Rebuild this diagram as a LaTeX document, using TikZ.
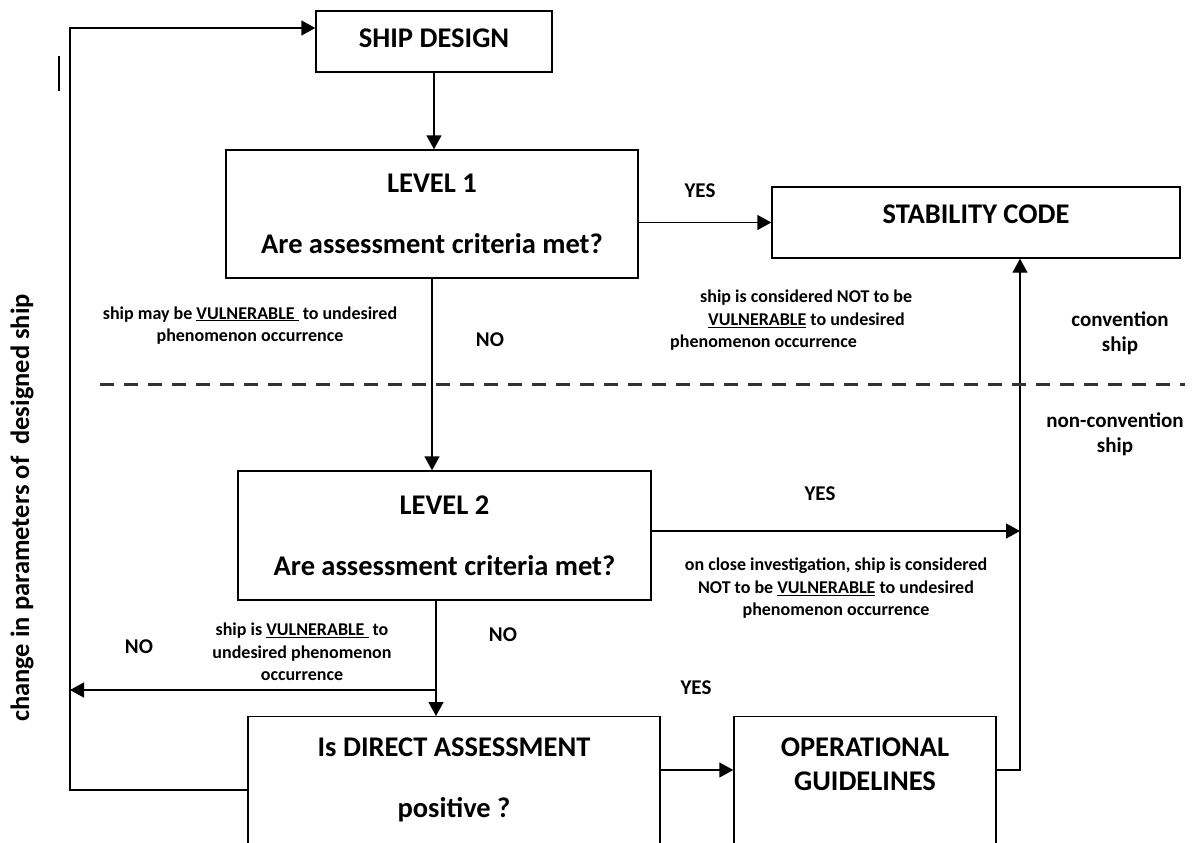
\documentclass[tikz,border=0pt]{standalone}
\usepackage{fontspec}
\setmainfont{Carlito}
\usetikzlibrary{arrows.meta}

\begin{document}
\begin{tikzpicture}[x=1pt, y=-1pt,
    box/.style={draw, line width=1.4pt, align=center, inner sep=0pt,
        font=\bfseries\fontsize{28.5}{34}\selectfont},
    lbl/.style={align=center, inner sep=0pt, font=\bfseries\fontsize{18}{22.5}\selectfont},
    ans/.style={inner sep=0pt, font=\bfseries\fontsize{21}{25}\selectfont},
    link/.style={line width=1.4pt},
    arr/.style={link, -{Triangle[length=14pt,width=15pt]}}]
    \useasboundingbox (0,0) rectangle (1192,843);
    \clip (0,0) rectangle (1192,843);

    % Boxes
    \node[box, minimum width=236pt, minimum height=61pt, text depth=7pt] (design) at (434,41.5) {SHIP DESIGN};
    \node[box, minimum width=412pt, minimum height=128pt] (lvl1) at (432,214) {LEVEL 1\\[27pt]Are assessment criteria met?};
    \node[box, minimum width=408pt, minimum height=71pt, text depth=16pt] (code) at (976,222.5) {STABILITY CODE};
    \node[box, minimum width=413pt, minimum height=129pt] (lvl2) at (444.5,535.5) {LEVEL 2\\[27pt]Are assessment criteria met?};
    \node[box, anchor=north, minimum width=412pt, inner ysep=21pt, text depth=60pt] (direct) at (454,716) {Is DIRECT ASSESSMENT\\[27pt]positive ?};
    \node[box, anchor=north, minimum width=262pt, inner ysep=21pt, text depth=60pt] (ops) at (865,716) {OPERATIONAL\\GUIDELINES};

    % Junction points
    \coordinate (top) at (70,28);
    \coordinate (loop) at (70,790);
    \coordinate (split) at (436,690);
    \coordinate (riser) at (1020,770);
    \coordinate (yes2) at (1020,531);

    % Connectors
    \draw[arr] (design.south) -- (design.south |- lvl1.north);
    \draw[arr] (lvl1.east |- code.west) -- (code.west);
    \draw[arr] (lvl1.south) -- (lvl1.south |- lvl2.north);
    \draw[arr] (lvl2.east |- yes2) -- (yes2);
    \draw[link] (lvl2.south -| split) -- (split);
    \draw[arr] (split) -- (split |- direct.north);
    \draw[arr] (split) -- (split -| loop);
    \draw[arr] (direct.west |- loop) -- (loop) -- (top) -- (top -| design.west);
    \draw[arr] (direct.east |- riser) -- (ops.west |- riser);
    \draw[arr] (ops.east |- riser) -- (riser) -- (riser |- code.south);

    % Border between ship kinds
    \draw[line width=3pt, color=black!80, dash pattern=on 14pt off 10pt] (100,384) -- (1185,384);
    \draw[line width=2.5pt] (59,56) -- (59,91);

    % Labels
    \node[ans] (yes1) at (700,191) {YES};
    \node[ans] (no1) at (490,340) {NO};
    \node[lbl] (vul1) at (250,325.5) {ship may be \underline{VULNERABLE~} to undesired\\phenomenon occurrence};
    \node[lbl, align=left, anchor=west] (notvul1) at (670,320.5) {\hspace*{30pt}ship is considered NOT to be\\\hspace*{38pt}\underline{VULNERABLE} to undesired\\phenomenon occurrence};
    \node[ans, align=center] (conv) at (1120,333) {convention\\ship};
    \node[ans, align=center] (nonconv) at (1115,434) {non-convention\\ship};
    \node[ans] (yes2lbl) at (820,494) {YES};
    \node[lbl] (notvul2) at (836,588.5) {on close investigation, ship is considered\\NOT to be \underline{VULNERABLE} to undesired\\phenomenon occurrence};
    \node[ans] (no2) at (503,635) {NO};
    \node[ans] (no3) at (139,647) {NO};
    \node[lbl] (vul2) at (302,652) {ship is \underline{VULNERABLE~} to\\undesired phenomenon\\occurrence};
    \node[ans] (yes3) at (696,688) {YES};
    \node[inner sep=0pt, rotate=90, font=\bfseries\fontsize{26.5}{30}\selectfont] (side) at (22,508) {change in parameters of~~designed ship};
\end{tikzpicture}
\end{document}
